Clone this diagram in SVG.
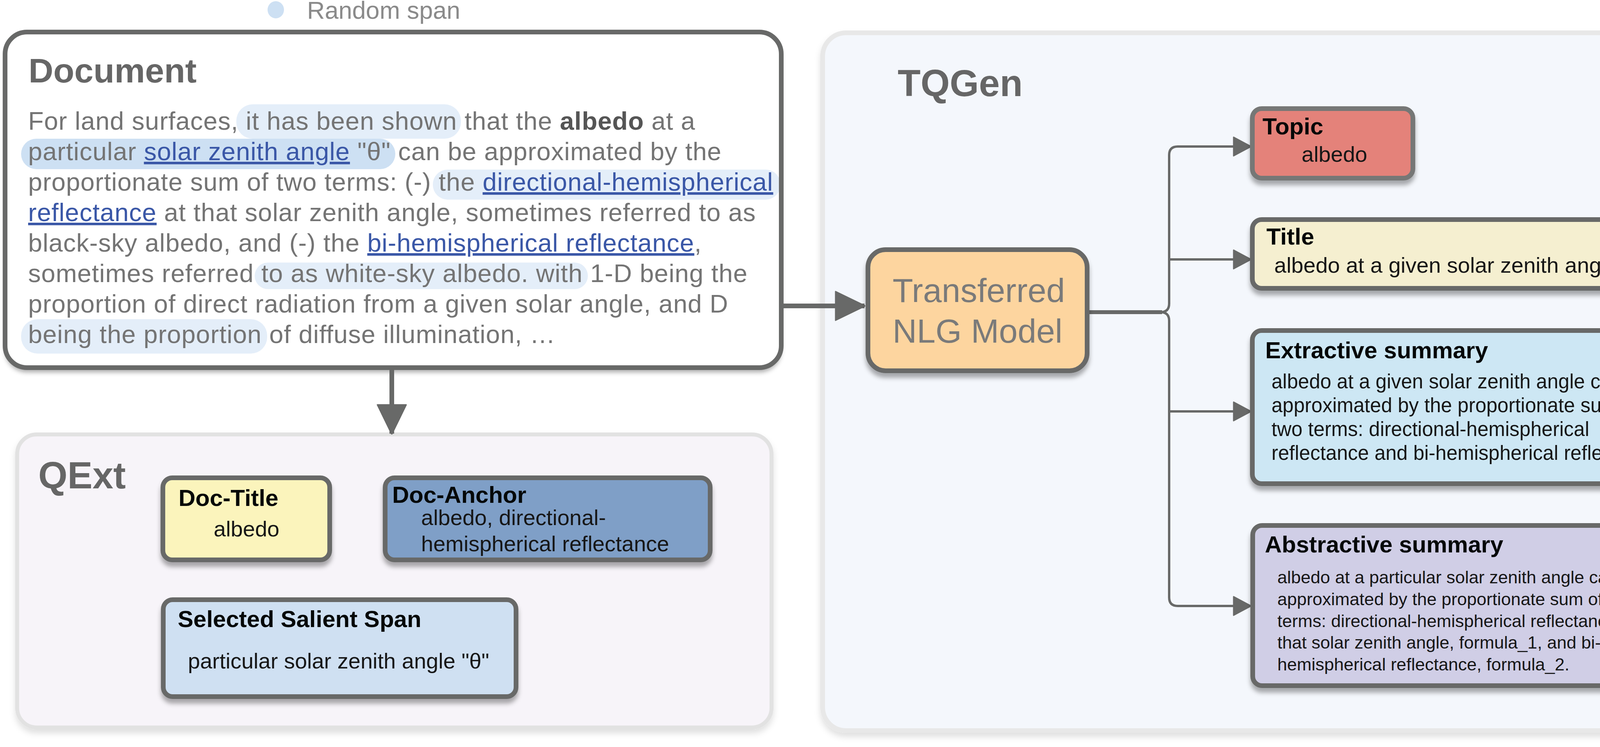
<svg xmlns="http://www.w3.org/2000/svg" width="4478" height="1912" viewBox="0 0 4478 1912">
<style>
text{font-family:"Liberation Sans",Arial,Helvetica,sans-serif}
.sect{font-weight:bold;fill:#666666}
.docb{font-size:65px;fill:#747474;letter-spacing:1px}
.link{fill:#3a57a7;text-decoration:underline}
.hl{fill:#e4eef9}
.hl2{fill:#cde0f3}
.node{stroke:#686968;stroke-width:12}
.head{font-size:60px;font-weight:bold;fill:#050808}
.body{font-size:56px;fill:#161616}
.ext{font-size:51px;fill:#161616}
.abs{font-size:45px;fill:#161616}
.conn{fill:none;stroke:#686968}
</style>
<defs>
<filter id="sh" x="-10%" y="-10%" width="120%" height="140%">
<feDropShadow dx="0" dy="12" stdDeviation="6" flood-color="#000" flood-opacity="0.32"/>
</filter>
<filter id="shl" x="-5%" y="-5%" width="110%" height="115%">
<feDropShadow dx="0" dy="10" stdDeviation="8" flood-color="#000" flood-opacity="0.12"/>
</filter>
<marker id="ahBig" viewBox="0 0 78 78" refX="76" refY="39" markerWidth="78" markerHeight="78" markerUnits="userSpaceOnUse" orient="auto">
<path d="M2,2 L78,39 L2,76 Z" fill="#686968" stroke="#686968" stroke-width="3" stroke-linejoin="round"/>
</marker>
<marker id="ah" viewBox="0 0 48 52" refX="46" refY="26" markerWidth="48" markerHeight="52" markerUnits="userSpaceOnUse" orient="auto">
<path d="M2,2 L47,26 L2,50 Z" fill="#686968" stroke="#686968" stroke-width="3" stroke-linejoin="round"/>
</marker>
</defs>
<rect width="4478" height="1912" fill="#ffffff"/>

<g id="legend">
<ellipse cx="706" cy="25" rx="21" ry="22" fill="#cde0f3"/>
<text x="786" y="48" font-size="63" fill="#8a8a8a">Random span</text>
</g>

<g id="tqgen">
<rect x="2106" y="84" width="2335" height="1786" rx="60" fill="#f4f7fc" stroke="#e8e8e8" stroke-width="12" filter="url(#shl)"/>
<text class="sect" x="2298" y="246" font-size="96">TQGen</text>
</g>

<g id="qext">
<rect x="44" y="1112" width="1931" height="750" rx="50" fill="#f7f4f9" stroke="#e2e2e2" stroke-width="10" filter="url(#shl)"/>
<text class="sect" x="98" y="1250" font-size="96">QExt</text>
</g>

<g id="document">
<rect x="13" y="82" width="1987" height="859" rx="56" fill="#ffffff" filter="url(#sh)"/>
<rect class="hl" x="605" y="267" width="575" height="88" rx="42"/>
<rect class="hl2" x="54" y="355" width="958" height="78" rx="39"/>
<rect class="hl" x="1108" y="434" width="890" height="77" rx="38"/>
<rect class="hl" x="652" y="672" width="853" height="68" rx="34"/>
<rect class="hl" x="54" y="817" width="630" height="88" rx="42"/>
<text class="sect" x="73" y="211" font-size="88">Document</text>
<text class="docb" x="72" y="332">For land surfaces, it has been shown that the <tspan font-weight="bold" fill="#555555">albedo</tspan> at a</text>
<text class="docb" x="72" y="410">particular <tspan class="link">solar zenith angle</tspan> "θ" can be approximated by the</text>
<text class="docb" x="72" y="488">proportionate sum of two terms: (-) the <tspan class="link">directional-hemispherical</tspan></text>
<text class="docb" x="72" y="566"><tspan class="link">reflectance</tspan> at that solar zenith angle, sometimes referred to as</text>
<text class="docb" x="72" y="644">black-sky albedo, and (-) the <tspan class="link">bi-hemispherical reflectance</tspan>,</text>
<text class="docb" x="72" y="722">sometimes referred to as white-sky albedo. with 1-D being the</text>
<text class="docb" x="72" y="800">proportion of direct radiation from a given solar angle, and D</text>
<text class="docb" x="72" y="878">being the proportion of diffuse illumination, …</text>
<rect x="13" y="82" width="1987" height="859" rx="56" fill="none" stroke="#686968" stroke-width="12"/>
</g>

<g id="connectors">
<path class="conn" d="M1003,947 L1003,1110" stroke-width="12" marker-end="url(#ahBig)"/>
<path class="conn" d="M2006,783 L2213,783" stroke-width="12" marker-end="url(#ahBig)"/>
<path class="conn" d="M2789,799 L2975,799" stroke-width="10"/>
<path class="conn" d="M2971,799 Q2993,799 2993,777 L2993,397 Q2993,375 3015,375 L3202,375" stroke-width="6" marker-end="url(#ah)"/>
<path class="conn" d="M2971,799 Q2993,799 2993,821 L2993,1529 Q2993,1551 3015,1551 L3202,1551" stroke-width="6" marker-end="url(#ah)"/>
<path class="conn" d="M2993,664 L3202,664" stroke-width="6" marker-end="url(#ah)"/>
<path class="conn" d="M2993,1053 L3202,1053" stroke-width="6" marker-end="url(#ah)"/>
</g>

<g id="nlg-model">
<rect class="node" x="2222" y="639" width="561" height="310" rx="45" fill="#fdd59f" filter="url(#sh)"/>
<text x="2285" y="773" font-size="86" fill="#7a7a7a">Transferred</text>
<text x="2285" y="877" font-size="86" fill="#7a7a7a">NLG Model</text>
</g>

<g id="doc-title">
<rect class="node" x="417" y="1223" width="427" height="210" rx="24" fill="#fbf4bc" filter="url(#sh)"/>
<text class="head" x="457" y="1295">Doc-Title</text>
<text class="body" x="547" y="1373">albedo</text>
</g>

<g id="doc-anchor">
<rect class="node" x="986" y="1223" width="832" height="210" rx="24" fill="#7f9fc7" filter="url(#sh)"/>
<text class="head" x="1004" y="1287">Doc-Anchor</text>
<text class="body" x="1078" y="1344">albedo, directional-</text>
<text class="body" x="1078" y="1411">hemispherical reflectance</text>
</g>

<g id="salient-span">
<rect class="node" x="418" y="1535" width="903" height="248" rx="24" fill="#cfe0f2" filter="url(#sh)"/>
<text class="head" x="455" y="1605">Selected Salient Span</text>
<text class="body" x="481" y="1711">particular solar zenith angle "θ"</text>
</g>

<g id="topic">
<rect x="3206" y="278" width="411" height="178" rx="24" fill="#e4827a" stroke="#767776" stroke-width="12" filter="url(#sh)"/>
<text class="head" x="3232" y="344">Topic</text>
<text class="body" x="3332" y="414">albedo</text>
</g>

<g id="title">
<rect class="node" x="3206" y="562" width="1040" height="176" rx="24" fill="#f5efd0" filter="url(#sh)"/>
<text class="head" x="3242" y="626">Title</text>
<text class="body" x="3262" y="698">albedo at a given solar zenith angle</text>
</g>

<g id="extractive-summary">
<rect class="node" x="3206" y="846" width="1117" height="392" rx="24" fill="#cde7f4" filter="url(#sh)"/>
<text class="head" x="3239" y="917">Extractive summary</text>
<text class="ext" x="3255" y="994">albedo at a given solar zenith angle can be</text>
<text class="ext" x="3255" y="1055">approximated by the proportionate sum of</text>
<text class="ext" x="3255" y="1116">two terms: directional-hemispherical</text>
<text class="ext" x="3255" y="1177">reflectance and bi-hemispherical reflectance</text>
</g>

<g id="abstractive-summary">
<rect class="node" x="3207" y="1345" width="1030" height="410" rx="24" fill="#d0cee6" filter="url(#sh)"/>
<text class="head" x="3238" y="1414">Abstractive summary</text>
<text class="abs" x="3270" y="1493">albedo at a particular solar zenith angle can be</text>
<text class="abs" x="3270" y="1549">approximated by the proportionate sum of two</text>
<text class="abs" x="3270" y="1605">terms: directional-hemispherical reflectance at</text>
<text class="abs" x="3270" y="1660">that solar zenith angle, formula_1, and bi-</text>
<text class="abs" x="3270" y="1716">hemispherical reflectance, formula_2.</text>
</g>
</svg>
